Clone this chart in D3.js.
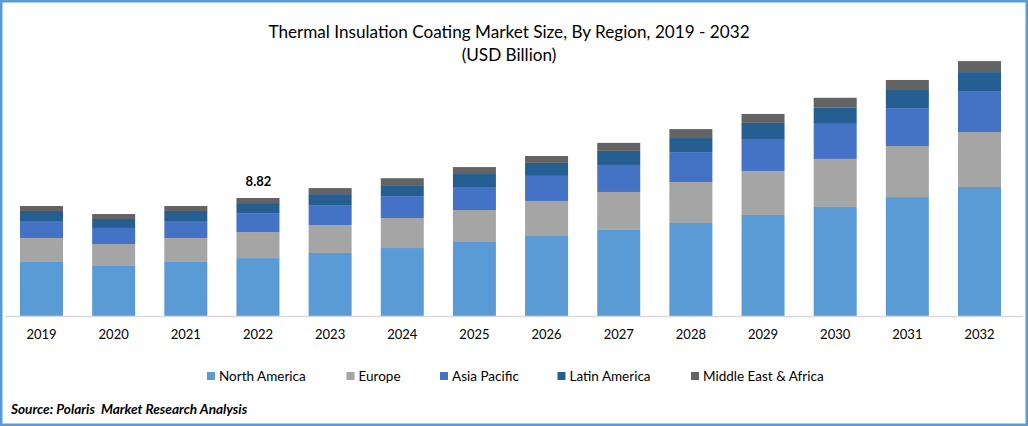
<!DOCTYPE html>
<html><head><meta charset="utf-8">
<script src="https://cdn.jsdelivr.net/npm/d3@7/dist/d3.min.js"></script>
<style>html,body{margin:0;padding:0;background:#fff}svg{display:block}text{font-family:Lato,Carlito,sans-serif;fill:#000}</style>
</head><body><svg id="c" width="1028" height="426"></svg>
<script>
const years=["2019","2020","2021","2022","2023","2024","2025","2026","2027","2028","2029","2030","2031","2032"];
const regions=["North America","Europe","Asia Pacific","Latin America","Middle East & Africa"];
const northAmerica=[4.04,3.74,4.04,4.33,4.71,5.08,5.53,5.98,6.43,6.95,7.55,8.15,8.89,9.64];
const europe=[1.79,1.64,1.79,1.94,2.09,2.24,2.39,2.62,2.84,3.06,3.29,3.59,3.81,4.11];
const asiaPacific=[1.27,1.20,1.27,1.42,1.49,1.64,1.72,1.87,2.02,2.24,2.39,2.62,2.84,3.06];
const latinAmerica=[0.75,0.67,0.75,0.75,0.82,0.82,0.97,0.97,1.05,1.05,1.20,1.20,1.35,1.42];
const middleEastAfrica=[0.37,0.37,0.37,0.38,0.45,0.52,0.52,0.52,0.60,0.67,0.67,0.75,0.75,0.82];
const colors=["#5B9BD5","#A5A5A5","#4472C4","#255E91","#636363"];
const annotated={year:"2022",label:"8.82"};
const titleLines=["Thermal Insulation Coating Market Size, By Region, 2019 - 2032","(USD Billion)"];
const source="Source: Polaris  Market Research Analysis";

const series=[northAmerica,europe,asiaPacific,latinAmerica,middleEastAfrica];
const rows=years.map((y,i)=>{const r={year:y};regions.forEach((n,j)=>r[n]=series[j][i]);return r;});
const stacked=d3.stack().keys(regions)(rows);
const W=1028,H=426;
const svg=d3.select("#c");
const x=d3.scaleBand().domain(years).range([20,1001]).paddingInner(0.404).paddingOuter(0);
const y=d3.scaleLinear().domain([0,20]).range([316,48.4]);

svg.append("rect").attr("x",1.25).attr("y",1.25).attr("width",W-2.5).attr("height",H-2.5)
  .attr("fill","#fff").attr("stroke","#5B9BD5").attr("stroke-width",2.5);

svg.append("g").selectAll("text").data(titleLines).join("text")
  .attr("x",509).attr("y",(d,i)=>38+i*23).attr("text-anchor","middle").attr("font-size",17.15).text(d=>d);

svg.append("g").selectAll("g").data(stacked).join("g").attr("fill",(d,i)=>colors[i])
  .selectAll("rect").data(d=>d).join("rect")
  .attr("x",d=>x(d.data.year)).attr("width",x.bandwidth())
  .attr("y",d=>y(d[1])).attr("height",d=>y(d[0])-y(d[1]));

const axis=svg.append("g").attr("transform","translate(0,316)")
  .call(d3.axisBottom(x).tickSize(0).tickPadding(14));
axis.select(".domain").attr("d","M5,0.5H1023").attr("stroke","#D9D9D9").attr("stroke-width",1.5);
axis.selectAll("text").attr("font-size",13).attr("font-family","Lato").attr("fill","#000");

const topSeg=stacked[stacked.length-1].find(d=>d.data.year===annotated.year);
svg.append("text").attr("x",x(annotated.year)+x.bandwidth()/2+0.5).attr("y",y(topSeg[1])-12)
  .attr("text-anchor","middle").attr("font-size",13).attr("font-weight",700).text(annotated.label);

const legendX=[207,346.5,440,557.5,691];
const lg=svg.append("g").selectAll("g").data(regions).join("g")
  .attr("transform",(d,i)=>`translate(${legendX[i]},372)`);
lg.append("rect").attr("width",8).attr("height",8).attr("fill",(d,i)=>colors[i]);
lg.append("text").attr("x",12).attr("y",9).attr("font-size",13.5).text(d=>d);

svg.append("text").attr("x",11).attr("y",414).attr("font-size",13.6).attr("font-weight",700)
  .attr("font-style","italic").style("white-space","pre").text(source);
</script></body></html>
